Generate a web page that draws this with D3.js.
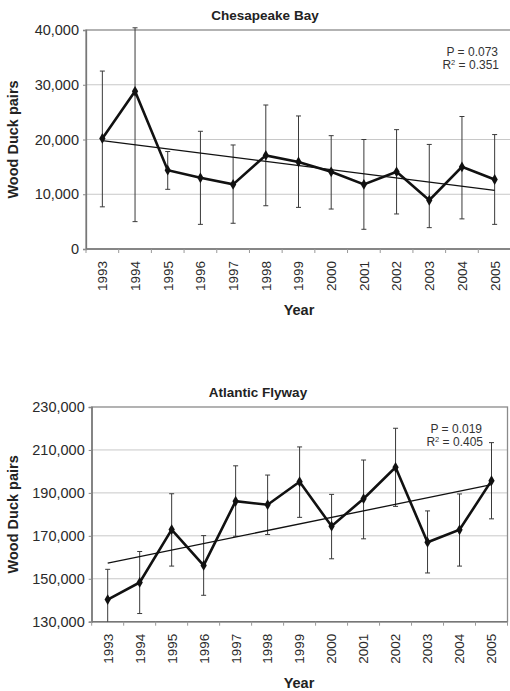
<!DOCTYPE html>
<html><head><meta charset="utf-8">
<script src="https://cdn.jsdelivr.net/npm/d3@7"></script>
<style>body{margin:0;background:#fff}svg{display:block;font-family:"Liberation Sans",Arial,sans-serif}</style>
</head><body><svg id="c" width="510" height="691"></svg>
<script>
const years = ["1993","1994","1995","1996","1997","1998","1999","2000","2001","2002","2003","2004","2005"];

// Chesapeake Bay
const cbValues = [20200, 28800, 14400, 13000, 11800, 17100, 15900, 14100, 11800, 14100, 8900, 15000, 12700];
const cbHigh   = [32500, 40400, 17800, 21500, 19000, 26300, 24300, 20700, 20000, 21800, 19100, 24200, 20900];
const cbLow    = [7700, 5000, 10900, 4500, 4700, 7900, 7600, 7300, 3600, 6400, 3900, 5500, 4500];
const cbTrend  = [19800, 10700];
const cbTicks  = [0, 10000, 20000, 30000, 40000];
const cbStats  = ["0.073", "0.351"];

// Atlantic Flyway
const afValues = [140300, 148300, 172900, 156200, 186100, 184500, 195200, 174500, 187300, 201900, 167000, 172800, 195700];
const afHigh   = [154400, 162700, 189600, 170100, 202600, 198300, 211400, 189300, 205300, 220100, 181600, 189500, 213400];
const afLow    = [126000, 133800, 155900, 142300, 169800, 170600, 178600, 159300, 168600, 183700, 152700, 155900, 177900];
const afTrend  = [157300, 193800];
const afTicks  = [130000, 150000, 170000, 190000, 210000, 230000];
const afStats  = ["0.019", "0.405"];

const svg = d3.select("#c");
const fmt = d3.format(",");

function panel(o) {
  const g = svg.append("g");
  const x = d3.scaleBand().domain(years).range([o.left, o.right]);
  const y = d3.scaleLinear().domain(o.domain).range([o.bottom, o.top]);
  const id = "clip" + o.key;
  svg.append("clipPath").attr("id", id).append("rect")
    .attr("x", o.left).attr("y", o.top - 6).attr("width", o.right - o.left).attr("height", o.bottom - o.top + 6);

  // gridlines
  g.selectAll(".grid").data(o.ticks.slice(1, -1)).join("line")
    .attr("x1", o.left).attr("x2", o.right).attr("y1", d => y(d)).attr("y2", d => y(d))
    .attr("stroke", "#c8c8c8").attr("stroke-width", 1);

  // frame
  g.append("rect").attr("x", o.left).attr("y", o.top).attr("width", o.right - o.left).attr("height", o.bottom - o.top)
    .attr("fill", "none").attr("stroke", "#8a8a8a").attr("stroke-width", 1.3);

  // y axis
  const ya = g.append("g").attr("transform", `translate(${o.left},0)`)
    .call(d3.axisLeft(y).tickValues(o.ticks).tickFormat(fmt).tickSize(3).tickPadding(4));
  ya.select(".domain").attr("stroke", "#777").attr("stroke-width", 1.3);
  ya.selectAll(".tick line").attr("stroke", "#888");
  ya.selectAll("text").attr("font-size", 14.5).attr("fill", "#2a2a2a").attr("font-family", "Liberation Sans, Arial, sans-serif");

  // x axis (ticks between categories)
  const xa = g.append("g").attr("transform", `translate(0,${o.bottom})`);
  xa.append("line").attr("x1", o.left).attr("x2", o.right).attr("stroke", "#777").attr("stroke-width", 1.5);
  const bounds = years.map(d => x(d)).concat([o.right]);
  xa.selectAll(".tk").data(bounds).join("line")
    .attr("x1", d => d).attr("x2", d => d).attr("y1", 0).attr("y2", 4).attr("stroke", "#999");
  xa.selectAll(".lbl").data(years).join("text")
    .attr("transform", d => `translate(${x(d) + x.bandwidth() / 2},0) rotate(-90)`)
    .attr("x", -12).attr("dy", "0.36em").attr("text-anchor", "end")
    .attr("font-size", 13.5).attr("fill", "#2a2a2a").text(d => d);

  const cx = d => x(d) + x.bandwidth() / 2;
  const eb = g.append("g").attr("clip-path", `url(#${id})`);
  // error bars
  eb.selectAll(".eb").data(years).join("line")
    .attr("x1", cx).attr("x2", cx).attr("y1", (d, i) => y(o.high[i])).attr("y2", (d, i) => y(o.low[i]))
    .attr("stroke", "#3a3a3a").attr("stroke-width", 1);
  eb.selectAll(".ct").data(years).join("line")
    .attr("x1", d => cx(d) - 2.5).attr("x2", d => cx(d) + 2.5).attr("y1", (d, i) => y(o.high[i])).attr("y2", (d, i) => y(o.high[i]))
    .attr("stroke", "#3a3a3a").attr("stroke-width", 1);
  eb.selectAll(".cb").data(years).join("line")
    .attr("x1", d => cx(d) - 2.5).attr("x2", d => cx(d) + 2.5).attr("y1", (d, i) => y(o.low[i])).attr("y2", (d, i) => y(o.low[i]))
    .attr("stroke", "#3a3a3a").attr("stroke-width", 1);

  // trend
  g.append("line").attr("x1", cx(years[0])).attr("x2", cx(years[years.length - 1]))
    .attr("y1", y(o.trend[0])).attr("y2", y(o.trend[1])).attr("stroke", "#111").attr("stroke-width", 1.3);

  // series
  g.append("path").datum(o.values)
    .attr("d", d3.line().x((d, i) => cx(years[i])).y(d => y(d)))
    .attr("fill", "none").attr("stroke", "#111").attr("stroke-width", 2.6).attr("stroke-linejoin", "miter");
  g.selectAll(".pt").data(o.values).join("path")
    .attr("transform", (d, i) => `translate(${cx(years[i])},${y(d)})`)
    .attr("d", d3.symbol().type(d3.symbolDiamond).size(34)).attr("fill", "#111");

  // titles
  g.append("text").attr("x", o.titleX).attr("y", o.top - 10).attr("text-anchor", "middle")
    .attr("font-size", 13.5).attr("font-weight", "bold").attr("fill", "#222").text(o.title);
  g.append("text").attr("transform", `translate(18,${(o.top + o.bottom) / 2}) rotate(-90)`)
    .attr("text-anchor", "middle").attr("font-size", 14.5).attr("font-weight", "bold").attr("fill", "#222").text("Wood Duck pairs");
  g.append("text").attr("x", 299).attr("y", o.bottom + 66).attr("text-anchor", "middle")
    .attr("font-size", 14.5).attr("font-weight", "bold").attr("fill", "#222").text("Year");

  // stats
  g.append("text").attr("x", o.statX).attr("y", o.top + 26).attr("text-anchor", "end")
    .attr("font-size", 12).attr("fill", "#333").text("P = " + o.stats[0]);
  const r = g.append("text").attr("x", o.statX + 1).attr("y", o.top + 39).attr("text-anchor", "end")
    .attr("font-size", 12).attr("fill", "#333");
  r.append("tspan").text("R");
  r.append("tspan").attr("font-size", 7.5).attr("dy", -4.5).text("2");
  r.append("tspan").attr("dy", 4.5).text(" = " + o.stats[1]);
}

panel({key: "a", left: 86, right: 511, top: 30, bottom: 249, domain: [0, 40000], ticks: cbTicks,
  values: cbValues, high: cbHigh, low: cbLow, trend: cbTrend, stats: cbStats,
  title: "Chesapeake Bay", titleX: 265, statX: 498});
panel({key: "b", left: 91.7, right: 507.5, top: 407, bottom: 621.7, domain: [130000, 230000], ticks: afTicks,
  values: afValues, high: afHigh, low: afLow, trend: afTrend, stats: afStats,
  title: "Atlantic Flyway", titleX: 258, statX: 482});
</script></body></html>
